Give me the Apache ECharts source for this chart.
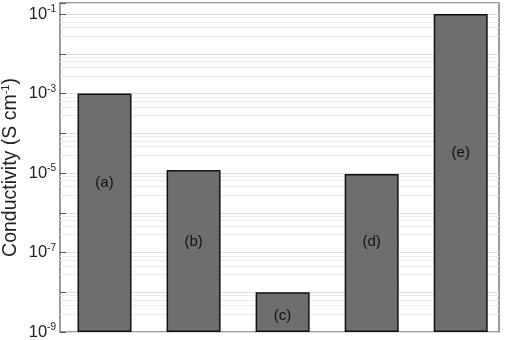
<!DOCTYPE html>
<html><head><meta charset="utf-8">
<script src="https://cdn.jsdelivr.net/npm/echarts@6/dist/echarts.min.js"></script>
<style>html,body{margin:0;padding:0;background:#fff}#c{width:507px;height:340px}</style>
</head><body><div id="c"></div>
<script>
var categories = ['(a)', '(b)', '(c)', '(d)', '(e)'];
var conductivity = [1.0e-3, 1.2e-5, 1.0e-8, 9.5e-6, 1.0e-1];
var labelOffsets = [-30, -9, 4, -11, -20];
var yMin = 1e-9, yMax = 0.19;

var chart = echarts.init(document.getElementById('c'));
var FONT = '"Liberation Sans", Arial, sans-serif';
chart.setOption({
  animation: false,
  grid: { left: 60, right: 8, top: 3, bottom: 8, show: true, borderColor: '#7a7a7a', borderWidth: 1.5, backgroundColor: 'transparent', containLabel: false, outerBoundsMode: 'none' },
  xAxis: { type: 'value', min: 0.5, max: 5.43, show: false },
  yAxis: {
    type: 'log', logBase: 10, min: yMin, max: yMax, startValue: yMin,
    name: '{n|Conductivity (S cm}{s|-1}{n|)}', nameLocation: 'middle', nameGap: 38, nameRotate: 90, nameMoveOverlap: false,
    nameTextStyle: { rich: { n: { fontFamily: FONT, fontSize: 19.5, color: '#222', lineHeight: 22 }, s: { fontFamily: FONT, fontSize: 11, color: '#222', verticalAlign: 'top', lineHeight: 22 } } },
    axisLine: { show: false },
    axisTick: { show: true, inside: true, length: 6, lineStyle: { color: '#555' } },
    splitLine: { show: true, lineStyle: { color: '#dcdcdc', width: 1 } },
    minorTick: { show: false, splitNumber: 5 },
    minorSplitLine: { show: true, lineStyle: { color: '#ececec', width: 1 } },
    axisLabel: {
      margin: 4,
      formatter: function (v) {
        var e = Math.round(Math.log10(v));
        if (Math.abs(Math.log10(v) - e) > 0.01 || Math.abs(e) % 2 !== 1) return '';
        return '{b|10}{s|' + e + '}';
      },
      rich: { b: { fontFamily: FONT, fontSize: 16.5, color: '#222', lineHeight: 19 }, s: { fontFamily: FONT, fontSize: 10, color: '#222', verticalAlign: 'top', lineHeight: 19 } }
    }
  },
  series: [{
    type: 'bar', barWidth: 54,
    data: conductivity.map(function (v, i) {
      return { value: [i + 1, v], label: { offset: [0, labelOffsets[i]] } };
    }),
    itemStyle: { color: '#6e6e6e', borderColor: '#111', borderWidth: 1.5 },
    label: { show: true, position: 'inside', fontFamily: FONT, fontSize: 15, color: '#111',
      formatter: function (p) { return categories[p.dataIndex]; } }
  }]
});
</script></body></html>
